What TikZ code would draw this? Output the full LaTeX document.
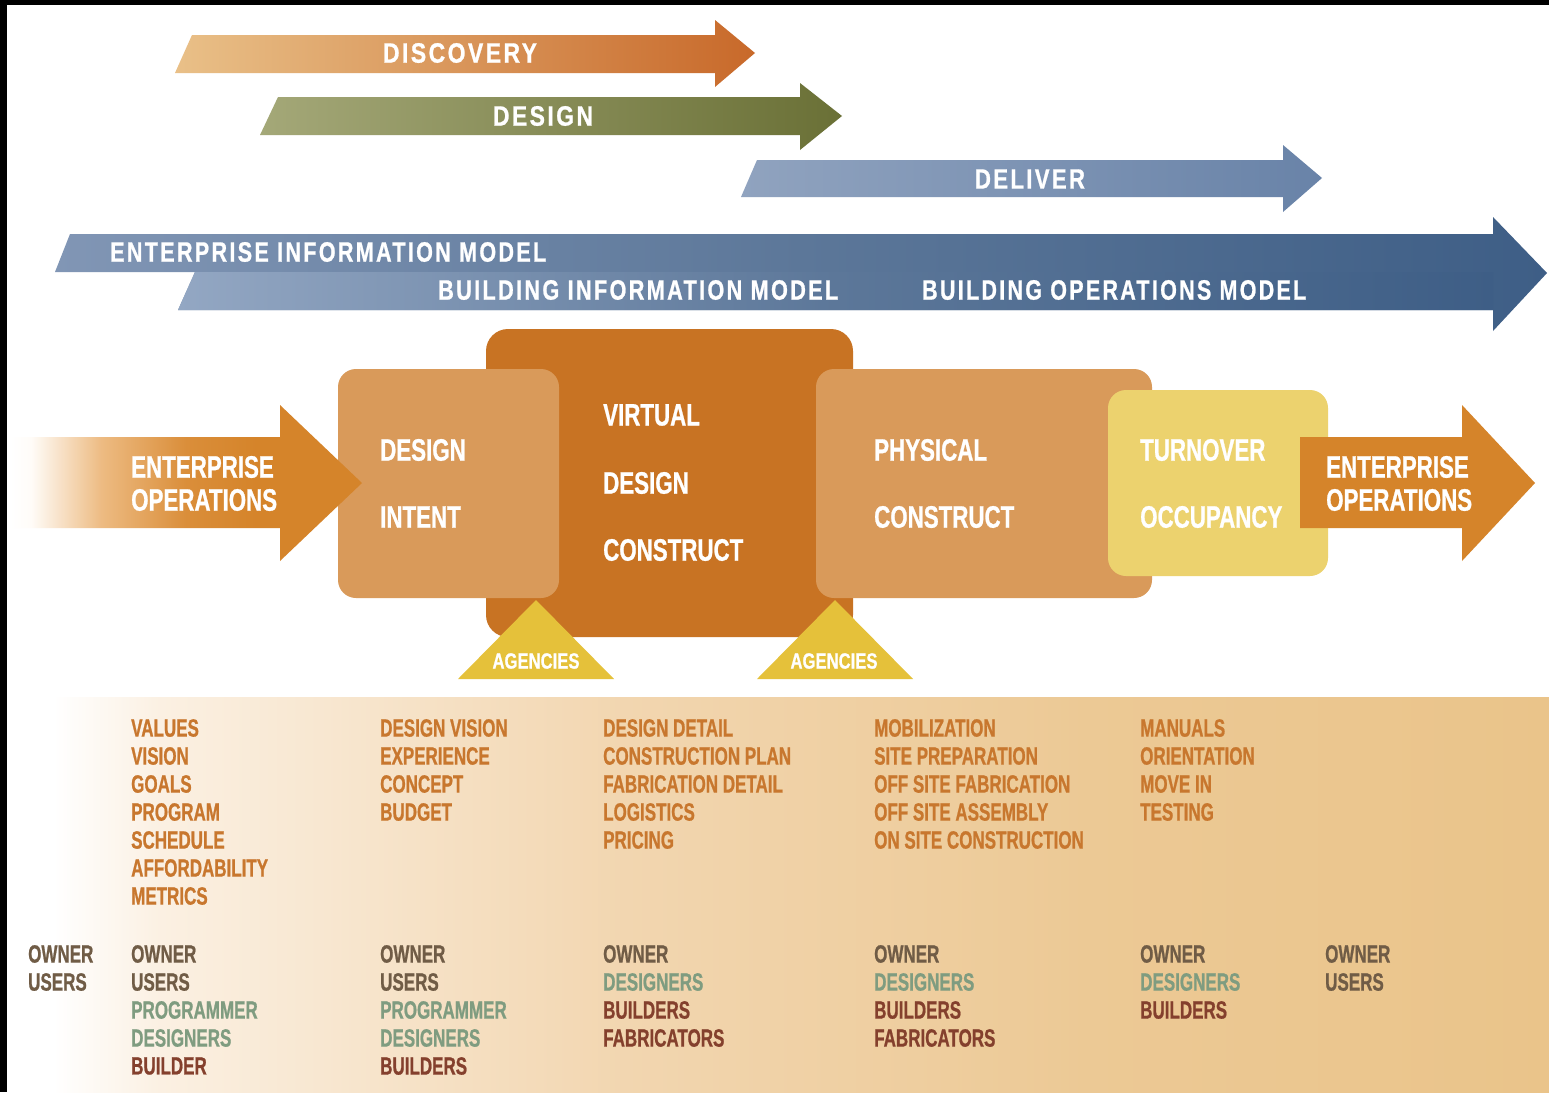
\documentclass[tikz,border=0pt]{standalone}
\usepackage{fontspec}
\usepackage{graphicx}
\newfontfamily\cnd{Liberation Sans}[FakeStretch=0.68,FakeBold=0.8]
\newfontfamily\cndb{Liberation Sans}[FakeStretch=0.72,FakeBold=0.8]
\newfontfamily\cndt{Liberation Sans}[FakeStretch=0.74,LetterSpace=8,FakeBold=0.8]
\newcommand\fitw[2]{\resizebox{#1pt}{\height}{#2}}
\definecolor{diC}{HTML}{D99A5A}
\definecolor{vdcC}{HTML}{C87323}
\definecolor{yelC}{HTML}{ECD26E}
\definecolor{arrC}{HTML}{D5842A}
\definecolor{triC}{HTML}{E5C13A}
\definecolor{listC}{HTML}{C8772E}
\definecolor{ownC}{HTML}{705C46}
\definecolor{desC}{HTML}{7F9C80}
\definecolor{bldC}{HTML}{84402D}
\definecolor{bandA}{HTML}{FBF0E2}
\definecolor{bandB}{HTML}{F2D6B0}
\definecolor{bandC}{HTML}{ECC995}
\definecolor{bandR}{HTML}{EAC48A}
\definecolor{arrA}{HTML}{FFFCF8}
\definecolor{arrB}{HTML}{EDBB82}
\definecolor{arrD}{HTML}{DA8E3A}
\definecolor{discL}{HTML}{E9C088}
\definecolor{discM}{HTML}{DBA676}
\definecolor{discR}{HTML}{C8692A}
\definecolor{desL}{HTML}{A4A878}
\definecolor{desR}{HTML}{6A7036}
\definecolor{delL}{HTML}{90A3BF}
\definecolor{delR}{HTML}{6983A8}
\definecolor{bluL}{HTML}{8196B5}
\definecolor{bluM}{HTML}{5C7799}
\definecolor{bluR}{HTML}{3E5E86}
\definecolor{bluL2}{HTML}{93A7C3}
\pgfdeclarehorizontalshading{bandsh}{100bp}{color(0bp)=(white); color(25bp)=(white); color(26.5bp)=(white); color(30bp)=(bandA); color(45bp)=(bandB); color(60bp)=(bandC); color(75bp)=(bandR); color(100bp)=(bandR)}
\pgfdeclarehorizontalshading{leftsh}{100bp}{color(0bp)=(white); color(25bp)=(white); color(28bp)=(arrA); color(38bp)=(arrB); color(50bp)=(arrD); color(60bp)=(arrC); color(100bp)=(arrC)}
\begin{document}
\begin{tikzpicture}[x=1pt,y=-1pt,
  ttl/.style={font=\cndt\bfseries\fontsize{28}{30}\selectfont, text=white, inner sep=0},
  bxt/.style={font=\cndb\bfseries\fontsize{31}{33}\selectfont, text=white, inner sep=0, anchor=west},
  agt/.style={font=\cndb\bfseries\fontsize{22}{24}\selectfont, text=white, inner sep=0},
  lst/.style={font=\cnd\bfseries\fontsize{25}{28}\selectfont, text=listC, inner sep=0, anchor=west},
  own/.style={lst, text=ownC},
  dsg/.style={lst, text=desC},
  bld/.style={lst, text=bldC}]
\useasboundingbox (0,0) rectangle (1549,1092);
\fill[white] (0,0) rectangle (1549,1092);
% lower band
\shade[shading=bandsh] (7,697) rectangle (1549,1092);
% black border
\fill[black] (0,0) rectangle (1549,5);
\fill[black] (0,0) rectangle (7,1092);
% big blue arrow
\shade[left color=bluL, right color=bluR, middle color=bluM] (70,234) -- (1493,234) -- (1493,217) -- (1547,273) -- (1493,331) -- (1493,310) -- (178,310) -- (195,272) -- (55,272) -- cycle;
\shade[left color=bluL2, right color=bluR, middle color=bluM] (195,272) -- (1493,272) -- (1493,310) -- (178,310) -- cycle;
% top arrows
\shade[left color=discL, middle color=discM, right color=discR] (192,35) -- (715,35) -- (715,20) -- (755,53) -- (715,87) -- (715,73) -- (175,73) -- cycle;
\shade[left color=desL, right color=desR] (278,97) -- (800,97) -- (800,83) -- (842,116) -- (800,150) -- (800,135) -- (260,135) -- cycle;
\shade[left color=delL, right color=delR] (757,160) -- (1283,160) -- (1283,145) -- (1322,178) -- (1283,212) -- (1283,197) -- (741,197) -- cycle;
% boxes
\fill[vdcC, rounded corners=22] (486,329) rectangle (853,637);
\fill[diC, rounded corners=18] (338,369) rectangle (559,598);
\fill[diC, rounded corners=18] (816,369) rectangle (1152,598);
\fill[yelC, rounded corners=18] (1108,390) rectangle (1328,576);
% side arrows
\shade[shading=leftsh] (10,437) -- (280,437) -- (280,405) -- (362,483) -- (280,561) -- (280,528) -- (10,528) -- cycle;
\fill[arrC] (1300,437) -- (1462,437) -- (1462,405) -- (1535,483) -- (1462,561) -- (1462,528) -- (1300,528) -- cycle;
% agencies
\fill[triC] (458,679) -- (536,600) -- (614,679) -- cycle;
\fill[triC] (757,679) -- (835,600) -- (913,679) -- cycle;
% titles
\node[ttl] (disc) at (460,53) {\fitw{154}{DISCOVERY}};
\node[ttl] (desg) at (543,116) {\fitw{100}{DESIGN}};
\node[ttl] (delv) at (1030,179) {\fitw{110}{DELIVER}};
\node[ttl, anchor=west] (eim) at (110,252) {\fitw{436}{ENTERPRISE INFORMATION MODEL}};
\node[ttl, anchor=west] (bim) at (438,290) {\fitw{400}{BUILDING INFORMATION MODEL}};
\node[ttl, anchor=west] (bom) at (922,290) {\fitw{384}{BUILDING OPERATIONS MODEL}};
% box texts
\node[bxt] (eo1) at (131,467) {ENTERPRISE};
\node[bxt] (eo2) at (131,500) {OPERATIONS};
\node[bxt] (di1) at (380,450) {DESIGN};
\node[bxt] (di2) at (380,517) {INTENT};
\node[bxt] (vd1) at (603,415) {VIRTUAL};
\node[bxt] (vd2) at (603,483) {DESIGN};
\node[bxt] (vd3) at (603,550) {CONSTRUCT};
\node[bxt] (pc1) at (874,450) {PHYSICAL};
\node[bxt] (pc2) at (874,517) {CONSTRUCT};
\node[bxt] (to1) at (1140,450) {TURNOVER};
\node[bxt] (to2) at (1140,517) {OCCUPANCY};
\node[bxt] (ro1) at (1326,467) {ENTERPRISE};
\node[bxt] (ro2) at (1326,500) {OPERATIONS};
\node[agt] (ag1) at (536,661) {\fitw{87}{AGENCIES}};
\node[agt] (ag2) at (834,661) {\fitw{87}{AGENCIES}};
% lists
\foreach \t [count=\i from 0] in {VALUES,VISION,GOALS,PROGRAM,SCHEDULE,AFFORDABILITY,METRICS}
  \node[lst, name=ca\i] at (131,728+28*\i) {\t};
\foreach \t [count=\i from 0] in {DESIGN VISION,EXPERIENCE,CONCEPT,BUDGET}
  \node[lst, name=cb\i] at (380,728+28*\i) {\t};
\foreach \t [count=\i from 0] in {DESIGN DETAIL,CONSTRUCTION PLAN,FABRICATION DETAIL,LOGISTICS,PRICING}
  \node[lst, name=cc\i] at (603,728+28*\i) {\t};
\foreach \t [count=\i from 0] in {MOBILIZATION,SITE PREPARATION,OFF SITE FABRICATION,OFF SITE ASSEMBLY,ON SITE CONSTRUCTION}
  \node[lst, name=cd\i] at (874,728+28*\i) {\t};
\foreach \t [count=\i from 0] in {MANUALS,ORIENTATION,MOVE IN,TESTING}
  \node[lst, name=ce\i] at (1140,728+28*\i) {\t};
% roles
\node[own] (r0a) at (28,954) {OWNER};
\node[own] (r0b) at (28,982) {USERS};
\node[own] (r1a) at (131,954) {OWNER};
\node[own] (r1b) at (131,982) {USERS};
\node[dsg] (r1c) at (131,1010) {PROGRAMMER};
\node[dsg] (r1d) at (131,1038) {DESIGNERS};
\node[bld] (r1e) at (131,1066) {BUILDER};
\node[own] (r2a) at (380,954) {OWNER};
\node[own] (r2b) at (380,982) {USERS};
\node[dsg] (r2c) at (380,1010) {PROGRAMMER};
\node[dsg] (r2d) at (380,1038) {DESIGNERS};
\node[bld] (r2e) at (380,1066) {BUILDERS};
\node[own] (r3a) at (603,954) {OWNER};
\node[dsg] (r3b) at (603,982) {DESIGNERS};
\node[bld] (r3c) at (603,1010) {BUILDERS};
\node[bld] (r3d) at (603,1038) {FABRICATORS};
\node[own] (r4a) at (874,954) {OWNER};
\node[dsg] (r4b) at (874,982) {DESIGNERS};
\node[bld] (r4c) at (874,1010) {BUILDERS};
\node[bld] (r4d) at (874,1038) {FABRICATORS};
\node[own] (r5a) at (1140,954) {OWNER};
\node[dsg] (r5b) at (1140,982) {DESIGNERS};
\node[bld] (r5c) at (1140,1010) {BUILDERS};
\node[own] (r6a) at (1325,954) {OWNER};
\node[own] (r6b) at (1325,982) {USERS};
\end{tikzpicture}
\end{document}
